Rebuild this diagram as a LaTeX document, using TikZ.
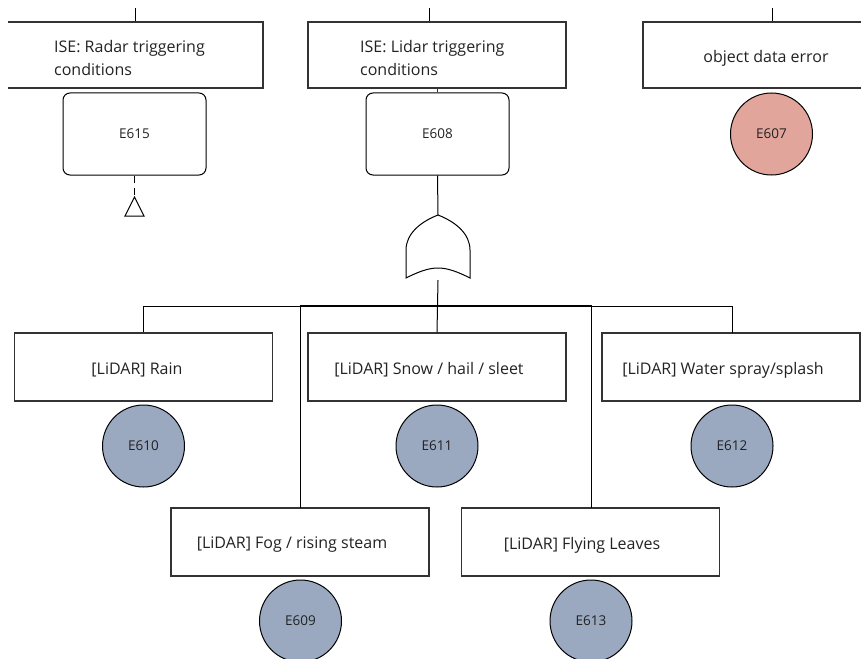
\documentclass[tikz,border=0pt]{standalone}
\usepackage{fontspec}
\setmainfont{Open Sans}
\definecolor{boxline}{HTML}{333333}
\definecolor{ink}{HTML}{222222}
\definecolor{basicfill}{HTML}{9AA9C0}
\definecolor{errfill}{HTML}{E2A59C}
\begin{document}
\begin{tikzpicture}[x=1pt,y=-1pt,
  topbox/.style={draw=boxline,line width=1.2pt,rectangle,minimum width=258pt,minimum height=66pt,inner sep=0pt},
  evbox/.style={draw=boxline,line width=1.2pt,rectangle,minimum width=258pt,minimum height=68pt,inner sep=0pt},
  evtext/.style={text=ink,inner sep=0pt,font=\fontsize{16}{18}\selectfont},
  twoline/.style={text=ink,inner sep=0pt,anchor=west,align=left,font=\fontsize{16}{23}\selectfont},
  xferbox/.style={draw=black,line width=1pt,rounded corners=7pt,minimum width=143pt,minimum height=82pt,inner sep=0pt,text=ink,font=\fontsize{13.5}{15}\selectfont},
  basic/.style={draw=black,line width=1pt,circle,minimum size=82pt,inner sep=0pt,fill=basicfill,text=ink,font=\fontsize{13.5}{15}\selectfont},
  errev/.style={basic,fill=errfill},
  wire/.style={draw=black,line width=1pt}]
\useasboundingbox (0,0) rectangle (861,658);
\clip (8,0) rectangle (861,658);

% upper row of events
\node[topbox] (radar) at (134,55) {};
\node[twoline] (radartxt) at (54,58.5) {ISE: Radar triggering\\conditions};
\node[topbox] (lidar) at (437,55) {};
\node[twoline] (lidartxt) at (360,58.5) {ISE: Lidar triggering\\conditions};
\node[topbox] (objerr) at (772,55) {};
\node[evtext] (objerrtxt) at (766,58) {object data error};

% stubs from the events above
\coordinate (radarin) at (135,8);
\coordinate (lidarin) at (429,8);
\coordinate (objerrin) at (772,8);
\draw[wire] (radarin) -- (radarin |- radar.north);
\draw[wire] (lidarin) -- (lidarin |- lidar.north);
\draw[wire] (objerrin) -- (objerrin |- objerr.north);

% identifiers under the upper row
\node[xferbox] (e615) at (134.5,134) {E615};
\node[xferbox] (e608) at (437.5,134) {E608};
\node[errev] (e607) at (771.5,134) {E607};
\draw[line width=0.8pt,draw=boxline] (e608.north |- lidar.south) -- (e608.north);

% transfer triangle below E615
\coordinate (tri) at (134.5,197);
\draw[wire,dash pattern=on 7pt off 5pt] (e615.south) -- (tri);
\draw[line width=1pt] (tri) -- (125,216) -- (144,216) -- cycle;

% OR gate
\coordinate (gtop) at (438,215);
\coordinate (gout) at (438,280);
\draw[wire] (e608.south) -- (gtop);
\draw[line width=1pt] (gtop) .. controls (420,222) and (406,234) .. (406,250)
  -- (406,278) .. controls (418,272) and (428,268) .. (438,268)
  .. controls (448,268) and (458,272) .. (470,278)
  -- (470,250) .. controls (470,234) and (456,222) .. (gtop) -- cycle;

% lower events
\node[evbox] (rain) at (143.5,367) {};
\node[evtext] (raintxt) at (137,370) {[LiDAR] Rain};
\node[evbox] (snow) at (437,367) {};
\node[evtext] (snowtxt) at (429,370) {[LiDAR] Snow / hail / sleet};
\node[evbox] (spray) at (731,367) {};
\node[evtext] (spraytxt) at (723,370) {[LiDAR] Water spray/splash};
\node[evbox] (fog) at (300,542) {};
\node[evtext] (fogtxt) at (292,545) {[LiDAR] Fog / rising steam};
\node[evbox] (leaves) at (590.5,542) {};
\node[evtext] (leavestxt) at (582,545) {[LiDAR] Flying Leaves};

\node[basic] (e610) at (143.5,446) {E610};
\node[basic] (e611) at (437,446) {E611};
\node[basic] (e612) at (732,446) {E612};
\node[basic] (e609) at (300.5,621) {E609};
\node[basic] (e613) at (591,621) {E613};

% gate output bus
\coordinate (busa) at (438,306);
\coordinate (busb) at (438,305);
\draw[wire] (gout) -- (snow.north);
\draw[wire] (rain.north) -- (rain.north |- busa) -- (busa);
\draw[wire] (732,333) -- (732,306) -- (busa);
\draw[wire] (300,508) -- (300,305) -- (busb);
\draw[wire] (591,508) -- (591,305) -- (busb);
\end{tikzpicture}
\end{document}
